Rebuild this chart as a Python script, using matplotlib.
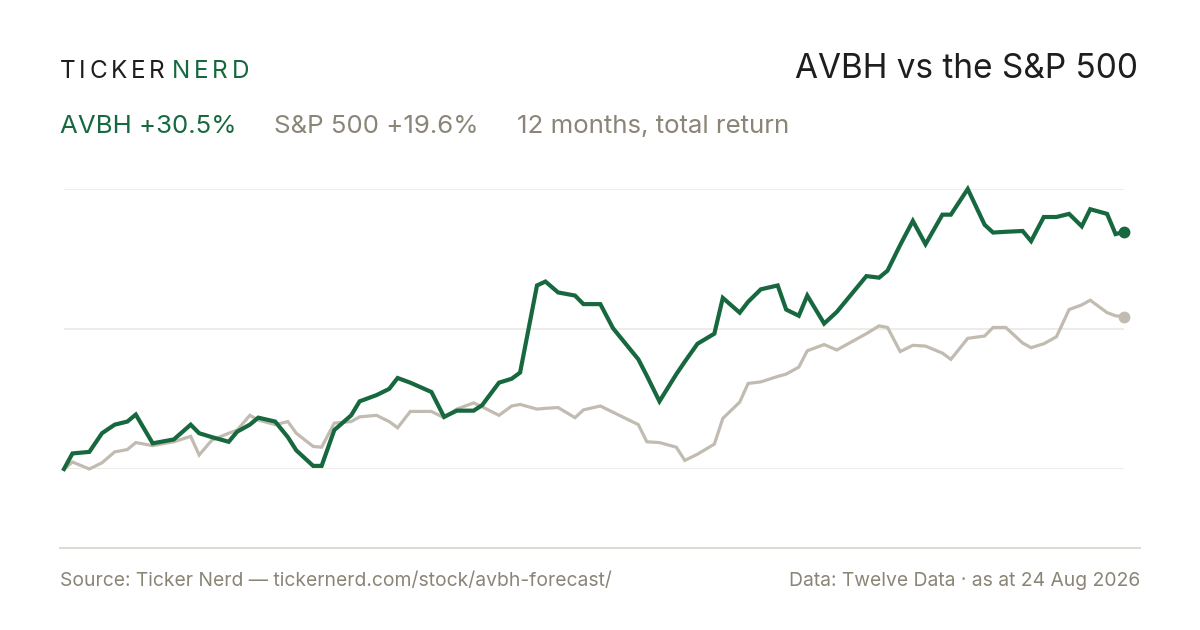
import matplotlib
matplotlib.use("Agg")
import matplotlib.pyplot as plt

plt.rcParams['font.family'] = ['Inter', 'DejaVu Sans']

# trading-day index and total return (%)
days = [0, 2, 6, 9, 12, 15, 17, 21, 26, 30, 32, 35, 39, 41, 44, 46, 50, 53, 55, 59,
        61, 64, 68, 70, 74, 77, 79, 82, 87, 90, 93, 97, 99, 103, 106, 108, 112, 114, 117, 121,
        123, 127, 130, 133, 136, 138, 141, 145, 147, 150, 154, 156, 160, 162, 165, 169, 171, 174, 176, 180,
        183, 190, 193, 195, 198, 201, 204, 208, 210, 214, 218, 220, 223, 227, 229, 232, 235, 238, 241, 243,
        247, 249, 251]
avbh = [0.0, 2.0, 2.2, 4.6, 5.7, 6.1, 7.0, 3.3, 3.8, 5.7, 4.6, 4.1, 3.5, 4.8, 5.7, 6.6, 6.1, 4.1, 2.4, 0.4,
        0.4, 5.0, 6.9, 8.7, 9.5, 10.3, 11.7, 11.1, 9.9, 6.7, 7.5, 7.5, 8.2, 11.1, 11.6, 12.4, 23.6, 24.1, 22.7, 22.3,
        21.2, 21.2, 18.1, 16.1, 14.1, 12.0, 8.7, 12.2, 13.8, 16.1, 17.4, 22.0, 20.1, 21.5, 23.1, 23.6, 20.5, 19.7, 22.3, 18.7,
        20.2, 24.8, 24.6, 25.5, 28.8, 31.9, 28.9, 32.7, 32.7, 36.0, 31.4, 30.4, 30.5, 30.6, 29.3, 32.4, 32.4, 32.8, 31.2, 33.4,
        32.8, 30.2, 30.5]
spx = [0.0, 0.9, 0.0, 0.8, 2.2, 2.5, 3.4, 3.0, 3.5, 4.2, 1.8, 3.7, 4.6, 5.0, 6.9, 6.3, 5.7, 6.1, 4.6, 2.9,
       2.8, 5.9, 6.1, 6.7, 6.9, 6.1, 5.3, 7.4, 7.4, 6.6, 7.7, 8.5, 8.0, 6.9, 8.1, 8.3, 7.7, 7.8, 7.9, 6.6,
       7.6, 8.1, 7.3, 6.5, 5.7, 3.5, 3.4, 2.8, 1.1, 1.9, 3.2, 6.5, 8.6, 11.0, 11.2, 11.9, 12.2, 13.1, 15.2, 16.0,
       15.3, 17.4, 18.4, 18.2, 15.1, 15.9, 15.8, 14.9, 14.1, 16.8, 17.1, 18.2, 18.2, 16.2, 15.6, 16.1, 17.0, 20.5, 21.1, 21.7,
       20.1, 19.7, 19.6]

GREEN = '#17683f'
GREY_LINE = '#c1bbb1'
GREY_TEXT = '#8a8577'
DARK = '#1e1e1e'
W, H = 1200, 630


def fx(px):
    return px / W


def fy(py):
    return 1 - py / H


fig = plt.figure(figsize=(12, 6.3), dpi=100)
fig.patch.set_facecolor('white')

# plot area spans the data range exactly
ax = fig.add_axes([fx(64), fy(469), fx(1124) - fx(64), (469 - 189) / H])
ax.set_axis_off()
lo = min(min(avbh), min(spx))
hi = max(max(avbh), max(spx))
ax.set_xlim(days[0], days[-1])
ax.set_ylim(lo, hi)
for g in [lo, (lo + hi) / 2, hi]:
    ax.hlines(g, days[0], days[-1], color='#ebe9e3', lw=1.2, zorder=1)

ax.plot(days, spx, color=GREY_LINE, lw=2.3, solid_joinstyle='miter', clip_on=False, zorder=2)
ax.plot(days, avbh, color=GREEN, lw=3.0, solid_joinstyle='miter', clip_on=False, zorder=3)
ax.plot(days[-1], spx[-1], 'o', color=GREY_LINE, ms=7.5, clip_on=False, zorder=4)
ax.plot(days[-1], avbh[-1], 'o', color=GREEN, ms=7.5, clip_on=False, zorder=4)

fig.canvas.draw()
r = fig.canvas.get_renderer()


def seq_text(x, y, parts, size, gap):
    # place text pieces one after another, in pixels
    for s, c in parts:
        t = fig.text(fx(x), fy(y), s, color=c, fontsize=size, va='baseline', ha='left')
        x += t.get_window_extent(r).width + gap


# letter-spaced logo
x = 60
for word, col in [('TICKER', DARK), ('NERD', GREEN)]:
    for ch in word:
        t = fig.text(fx(x), fy(78), ch, color=col, fontsize=17.5, va='baseline', ha='left')
        x += t.get_window_extent(r).width + 3.6
    x += 4

fig.text(fx(1138), fy(78), 'AVBH vs the S&P 500', color=DARK, fontsize=24,
         ha='right', va='baseline')

seq_text(60, 133, [('AVBH +30.5%', GREEN), ('S&P 500 +19.6%', GREY_TEXT),
                   ('12 months, total return', GREY_TEXT)], 18.6, 38)

# footer
fig.add_artist(plt.Line2D([fx(60), fx(1140)], [fy(548), fy(548)], color='#dedbd3', lw=1.5))
fig.text(fx(60), fy(586), 'Source: Ticker Nerd \u2014 tickernerd.com/stock/avbh-forecast/',
         color=GREY_TEXT, fontsize=13.9, va='baseline', ha='left')
fig.text(fx(1140), fy(586), 'Data: Twelve Data \u00b7 as at 24 Aug 2026',
         color=GREY_TEXT, fontsize=13.9, va='baseline', ha='right')

fig.savefig('out.png', dpi=100, facecolor='white')
